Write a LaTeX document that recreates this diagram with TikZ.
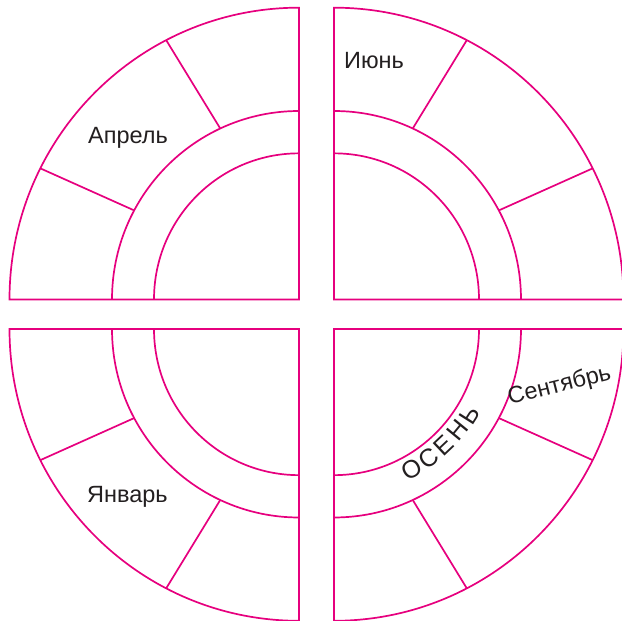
\documentclass[tikz,border=0pt]{standalone}
\usepackage{fontspec}
\setmainfont{Liberation Sans}
\definecolor{ring}{RGB}{230,0,126}
\definecolor{ink}{RGB}{35,31,32}
\tikzset{
  quad/.style={draw=ring, line width=1.7pt, line join=miter},
  lbl/.style={text=ink, inner sep=0pt, font=\fontsize{23.5}{27}\selectfont},
  arcl/.style={text=ink, inner sep=0pt, font=\fontsize{25}{29}\selectfont}
}
\begin{document}
\begin{tikzpicture}[x=1pt,y=1pt]
\useasboundingbox (0,0) rectangle (622,621);
\def\Rout{289.5}
\def\Rmid{187}
\def\Rin{145}
\foreach \cx/\cy/\sx/\sy in {299/321.5/-1/1, 334/321.5/1/1, 299/292/-1/-1, 334/292/1/-1}{
  \begin{scope}[shift={(\cx,\cy)}, xscale=\sx, yscale=1.008*\sy]
    \draw[quad] (0,0) -- (\Rout,0) arc[start angle=0, end angle=90, radius=\Rout] -- cycle;
    \draw[quad] (\Rmid,0) arc[start angle=0, end angle=90, radius=\Rmid];
    \draw[quad] (\Rin,0) arc[start angle=0, end angle=90, radius=\Rin];
    \draw[quad] (62.7:\Rout) -- (65.1:\Rmid);
    \draw[quad] (26.7:\Rout) -- (28.2:\Rmid);
  \end{scope}
}
\node[lbl, anchor=base west] (apr) at (88,477) {Апрель};
\node[lbl, anchor=base west] (jun) at (344,552) {Июнь};
\node[lbl, anchor=base west] (jan) at (87,118) {Январь};
\node[lbl, rotate=14] (sep) at (559.5,235) {Сентябрь};
\begin{scope}[shift={(334,292)}]
  \node[arcl, rotate=29]   (o1) at (-61:160)   {О};
  \node[arcl, rotate=36.2] (o2) at (-53.8:160) {С};
  \node[arcl, rotate=43.4] (o3) at (-46.6:160) {Е};
  \node[arcl, rotate=50.6] (o4) at (-39.4:160) {Н};
  \node[arcl, rotate=57.7] (o5) at (-32.3:160) {Ь};
\end{scope}
\end{tikzpicture}
\end{document}
